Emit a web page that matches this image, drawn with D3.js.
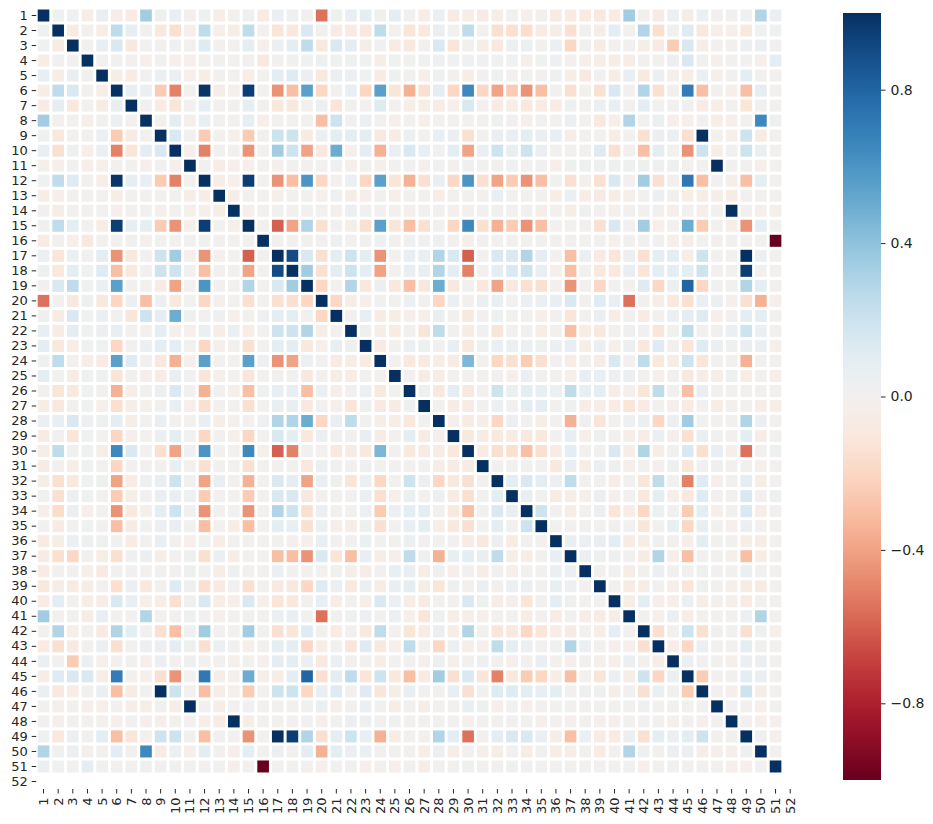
<!DOCTYPE html>
<html>
<head>
<meta charset="utf-8">
<script src="https://cdn.jsdelivr.net/npm/d3@7/dist/d3.min.js"></script>
<style>
  html, body { margin: 0; padding: 0; background: #fff; }
  svg { display: block; }
  text { font-family: "DejaVu Sans", sans-serif; fill: #262626; }
</style>
</head>
<body>
<svg id="chart" width="933" height="824"></svg>
<script>
// ---------- data ----------
// variable names (tick labels); variable 52 has no correlations (NaN)
const variables = d3.range(1, 53).map(String);
const nanVariables = ["52"];

// upper triangle of the correlation matrix: row i holds corr(i, j) for j = i+1 .. 51
const upperTriangle = [
  /* 1 */ [0.02,0.02,-0.05,0.07,-0.05,-0.07,0.35,0.03,0.07,-0.03,0.02,-0.05,0.01,0.03,-0.07,0.05,0.03,0.01,-0.55,0.03,0.07,0.1,0.03,0.1,0.01,-0.05,0.05,-0.07,-0.05,-0.07,-0.05,0.01,-0.03,0.01,-0.07,-0.07,-0.07,-0.1,-0.07,0.35,0.01,-0.07,0.05,-0.05,0.05,0.01,0.01,0.02,0.3,0.05],
  /* 2 */ [-0.07,0.01,-0.05,0.25,0.08,0.01,-0.1,-0.15,-0.03,0.25,-0.03,-0.05,0.25,0.01,-0.12,-0.1,0.15,0.01,-0.07,-0.07,-0.1,0.25,0.01,-0.12,-0.1,0.07,0.01,0.25,0.01,-0.15,-0.15,-0.17,-0.07,-0.05,-0.15,0.01,-0.05,0.1,0.01,0.3,-0.15,0.01,0.12,-0.1,-0.03,-0.03,-0.1,0.02,0.02],
  /* 3 */ [0.01,0.07,0.15,-0.1,0.01,0.01,0.03,0.01,0.12,0.01,0.01,0.1,-0.03,0.05,0.1,0.25,-0.1,0.15,0.1,-0.05,0.01,-0.07,-0.1,0.01,0.15,-0.12,0.01,-0.05,-0.1,0.05,0.05,0.01,0.05,-0.2,0.01,-0.07,0.01,0.01,-0.05,-0.08,-0.25,0.15,-0.05,0.01,0.01,0.05,0.05,0.01],
  /* 4 */ [0.01,0.01,0.01,-0.03,0.01,-0.03,-0.03,0.01,0.01,0.01,0.01,-0.1,0.01,0.02,0.02,0.03,0.02,0.02,0.02,-0.05,0.02,0.02,0.02,0.04,0.02,0.02,0.02,0.02,0.02,-0.03,0.02,0.04,0.01,-0.03,-0.05,-0.05,-0.05,0.01,0.01,0.05,0.15,0.01,-0.03,0.01,0.01,-0.03,0.1],
  /* 5 */ [-0.05,-0.07,0.01,0.05,0.05,-0.03,-0.05,0.01,0.01,-0.05,0.01,0.1,0.12,0.05,-0.1,0.05,0.05,0.02,-0.07,0.03,0.01,-0.03,0.03,0.01,-0.05,0.01,0.03,0.01,0.01,0.01,0.03,-0.05,-0.08,0.01,-0.05,0.07,-0.08,0.05,-0.03,-0.05,0.05,-0.03,0.01,0.1,0.01,0.01],
  /* 6 */ [0.07,0.05,-0.25,-0.5,0.01,0.98,-0.05,-0.03,0.95,0.01,-0.45,-0.3,0.55,-0.2,0.01,0.07,-0.2,0.55,-0.12,-0.35,-0.15,0.1,-0.2,0.65,-0.2,-0.4,-0.25,-0.45,-0.3,0.01,-0.15,0.01,-0.15,0.15,0.01,0.3,-0.15,0.01,0.7,-0.3,0.01,-0.03,-0.3,0.1,0.01],
  /* 7 */ [0.01,-0.07,-0.12,0.01,0.08,0.01,0.01,0.08,0.01,-0.1,-0.1,0.01,0.05,-0.12,0.01,0.01,0.12,0.01,-0.05,-0.05,-0.05,-0.03,0.15,0.01,-0.07,-0.05,-0.1,-0.07,-0.07,0.03,0.01,0.05,0.07,0.01,0.1,0.01,0.01,0.01,-0.07,-0.05,0.01,-0.12,0.01,0.01],
  /* 8 */ [0.01,0.1,-0.03,0.07,0.01,0.01,0.08,-0.03,0.01,0.01,0.01,-0.3,0.2,0.01,0.05,0.01,-0.03,0.01,-0.03,0.01,0.01,0.01,0.01,0.03,0.01,-0.03,0.01,0.01,0.05,0.01,-0.1,-0.03,0.3,0.01,0.05,-0.03,-0.03,0.01,-0.05,-0.03,0.01,0.65,0.03],
  /* 9 */ [0.15,0.01,-0.25,0.01,-0.03,-0.25,0.01,0.2,0.2,-0.07,0.05,0.1,0.1,0.1,-0.1,-0.07,0.05,0.01,0.07,0.05,-0.15,0.01,0.07,0.07,0.1,0.05,0.07,-0.05,0.01,0.01,-0.05,0.01,-0.15,0.05,0.05,-0.15,1.0,0.01,-0.03,0.2,-0.07,0.01],
  /* 10 */ [-0.03,-0.5,0.01,0.01,-0.45,0.01,0.35,0.2,-0.4,-0.1,0.5,-0.03,0.1,-0.35,0.07,0.15,0.07,0.01,0.1,-0.4,0.07,0.2,0.07,0.2,0.07,0.01,0.01,0.01,0.12,-0.15,0.01,-0.3,0.1,0.01,-0.45,0.2,-0.05,0.01,0.2,0.05,0.01],
  /* 11 */ [0.01,-0.05,-0.03,-0.03,0.01,-0.03,0.01,0.01,0.01,0.04,-0.03,0.01,-0.03,0.01,0.01,-0.03,0.01,0.01,0.04,0.01,0.01,0.04,0.01,0.01,-0.03,0.03,0.03,0.03,0.03,0.03,0.03,0.03,0.03,0.01,0.01,1.0,0.01,0.01,-0.03,0.01],
  /* 12 */ [-0.05,-0.03,0.95,0.01,-0.45,-0.3,0.6,-0.2,0.01,0.05,-0.2,0.55,-0.12,-0.35,-0.15,0.07,-0.2,0.6,-0.15,-0.4,-0.25,-0.45,-0.3,0.01,-0.15,0.01,-0.15,0.15,0.01,0.35,-0.15,0.01,0.72,-0.3,0.01,-0.05,-0.3,0.1,0.01],
  /* 13 */ [-0.05,0.01,0.01,-0.03,0.01,0.01,-0.03,0.03,-0.05,-0.03,0.01,-0.03,0.01,0.01,-0.05,0.01,0.01,0.01,0.07,0.01,0.01,0.01,-0.05,0.05,-0.05,-0.08,-0.05,-0.03,0.01,0.05,0.01,-0.05,-0.05,-0.05,-0.07,0.01,0.01,0.01],
  /* 14 */ [-0.03,0.01,0.01,0.01,0.01,0.01,-0.03,0.05,0.01,0.01,0.01,-0.03,0.01,0.01,-0.03,0.01,0.01,0.01,0.01,0.01,-0.05,0.01,-0.05,0.03,0.01,-0.03,0.01,0.01,0.01,-0.03,0.01,-0.03,0.01,1.0,0.01,-0.03,-0.03],
  /* 15 */ [0.01,-0.6,-0.4,0.3,-0.15,0.01,-0.05,-0.15,0.55,-0.12,-0.3,-0.15,0.01,-0.2,0.65,-0.15,-0.35,-0.25,-0.45,-0.3,0.01,0.01,0.01,-0.15,0.15,0.01,0.35,-0.03,0.01,0.5,-0.25,0.01,-0.05,-0.45,0.1,0.01],
  /* 16 */ [0.01,0.01,0.01,0.01,0.04,0.01,0.01,0.04,0.01,0.04,0.01,0.04,0.01,-0.03,0.01,0.01,0.01,0.01,0.01,0.01,0.01,0.01,0.01,-0.03,0.01,0.01,0.01,-0.03,-0.05,0.01,0.01,0.01,0.01,0.01,-1.0],
  /* 17 */ [0.9,0.15,-0.15,0.1,0.2,0.1,-0.45,0.01,0.07,0.07,0.3,0.15,-0.6,0.01,0.15,0.15,0.3,0.1,0.01,-0.3,0.05,-0.08,-0.12,0.05,-0.15,0.1,0.1,-0.05,0.2,0.01,0.01,1.0,0.05,0.01],
  /* 18 */ [0.35,-0.15,0.1,0.2,0.1,-0.4,0.01,0.07,0.07,0.3,0.1,-0.5,0.01,0.1,0.15,0.2,0.07,-0.03,-0.3,0.01,-0.1,-0.1,0.07,-0.12,0.1,0.1,0.1,0.2,0.01,0.01,0.95,0.01,0.01],
  /* 19 */ [-0.2,0.01,0.3,-0.1,0.05,-0.1,-0.3,-0.1,0.5,-0.1,0.01,-0.1,-0.4,-0.1,-0.15,-0.15,-0.03,-0.45,0.01,-0.2,0.01,0.01,0.12,-0.2,0.05,0.8,-0.2,0.01,0.01,0.3,0.1,0.01],
  /* 20 */ [-0.2,-0.05,-0.03,0.01,0.01,0.05,0.01,-0.2,0.05,0.01,0.05,0.07,0.01,0.05,0.05,0.07,0.15,0.01,0.12,0.07,-0.55,0.01,-0.05,-0.1,-0.15,0.07,0.05,-0.03,-0.15,-0.35,-0.03],
  /* 21 */ [0.01,0.07,-0.07,-0.05,-0.03,-0.03,0.07,0.01,-0.1,0.01,0.03,0.01,0.01,-0.03,0.01,-0.12,0.01,0.05,-0.05,0.01,-0.07,0.01,0.05,0.1,0.12,-0.03,0.01,0.1,0.1,0.01],
  /* 22 */ [0.03,-0.05,-0.07,0.01,-0.12,0.25,0.01,-0.07,0.01,-0.12,0.01,0.01,-0.05,0.01,-0.3,-0.05,-0.1,0.01,0.03,0.01,-0.12,0.01,0.25,0.01,0.01,0.05,0.2,0.05,0.01],
  /* 23 */ [-0.07,0.01,0.05,0.03,0.01,0.07,-0.1,0.03,0.05,0.05,0.05,0.03,0.05,0.07,-0.05,0.05,-0.03,0.05,-0.1,0.12,0.01,-0.12,0.12,0.05,0.03,0.07,0.05,-0.03],
  /* 24 */ [0.01,-0.1,-0.08,-0.05,-0.07,0.45,0.01,-0.2,-0.15,-0.25,-0.15,0.01,-0.05,0.01,-0.05,0.15,0.01,0.25,-0.1,-0.05,0.2,-0.12,0.01,0.01,-0.35,0.01,0.01],
  /* 25 */ [0.01,-0.07,-0.05,0.01,0.01,0.01,0.01,-0.03,0.05,0.01,0.01,-0.03,0.07,0.07,0.05,0.05,0.01,-0.03,0.01,-0.1,-0.05,-0.05,0.03,-0.05,0.01,-0.03],
  /* 26 */ [0.03,-0.1,0.1,-0.1,0.01,0.2,0.05,0.1,0.07,0.05,0.25,0.07,0.1,-0.05,-0.03,-0.12,0.25,0.01,-0.3,0.07,0.01,0.01,0.01,0.01,0.01],
  /* 27 */ [0.01,-0.07,-0.07,0.01,0.05,0.01,0.1,0.1,0.01,0.03,-0.05,-0.05,-0.07,-0.12,-0.07,0.01,-0.03,-0.07,0.01,-0.05,0.01,0.01,-0.05,-0.05],
  /* 28 */ [-0.03,-0.07,-0.05,-0.2,0.05,0.01,-0.05,0.01,-0.35,0.03,-0.12,0.01,0.03,0.05,-0.2,0.05,0.35,0.01,0.01,0.01,0.3,0.05,0.01],
  /* 29 */ [-0.1,-0.07,-0.1,-0.07,-0.1,-0.1,0.01,0.07,-0.03,0.03,0.01,-0.05,-0.05,0.05,-0.03,-0.15,0.07,0.01,0.01,0.1,-0.05,0.01],
  /* 30 */ [-0.07,-0.15,-0.15,-0.3,-0.15,-0.07,0.1,0.01,0.01,0.15,-0.05,0.3,-0.05,0.01,0.15,-0.15,0.07,-0.03,-0.55,0.01,0.03],
  /* 31 */ [0.01,0.01,0.01,0.01,-0.1,0.07,-0.05,0.05,0.03,-0.03,0.01,-0.03,0.03,-0.12,0.01,0.03,0.01,0.01,-0.03,0.01],
  /* 32 */ [0.1,0.15,0.1,0.05,0.25,0.01,0.01,-0.05,0.01,-0.12,0.25,0.01,-0.5,0.12,-0.03,0.01,0.1,-0.05,0.01],
  /* 33 */ [0.07,0.01,-0.07,-0.05,-0.03,0.05,-0.03,0.01,-0.1,0.1,-0.03,-0.1,0.12,0.01,0.01,0.15,0.01,0.03],
  /* 34 */ [0.2,0.01,-0.05,0.01,0.05,-0.12,-0.05,-0.2,0.05,0.01,-0.25,0.1,-0.03,0.01,0.15,-0.05,0.01],
  /* 35 */ [0.01,0.01,0.01,0.01,0.01,0.01,-0.12,0.01,0.07,-0.2,0.07,0.01,-0.03,0.05,0.01,0.01],
  /* 36 */ [0.07,0.05,0.07,0.1,-0.07,-0.05,0.03,0.01,-0.05,0.1,0.01,0.01,-0.05,-0.05,0.01],
  /* 37 */ [0.05,0.03,0.03,0.01,-0.07,0.3,-0.03,-0.3,0.01,0.01,-0.03,-0.3,-0.05,0.01],
  /* 38 */ [0.01,0.01,-0.05,0.01,0.05,0.01,0.01,0.03,0.01,0.01,0.05,0.01,0.01],
  /* 39 */ [0.01,-0.07,-0.05,0.01,-0.03,-0.12,0.03,0.01,-0.03,-0.07,-0.07,0.01],
  /* 40 */ [-0.05,0.1,-0.03,-0.03,0.05,-0.05,0.01,-0.03,-0.07,0.01,0.01],
  /* 41 */ [0.01,-0.03,0.05,-0.05,0.01,0.01,0.01,0.05,0.3,0.01],
  /* 42 */ [-0.15,0.01,0.2,-0.15,0.03,0.01,-0.15,0.03,-0.03],
  /* 43 */ [-0.05,-0.2,0.05,0.01,0.01,0.1,0.01,0.01],
  /* 44 */ [0.05,0.01,0.01,-0.03,0.05,0.05,0.01],
  /* 45 */ [-0.25,0.01,0.01,0.1,0.05,0.01],
  /* 46 */ [0.01,-0.03,0.2,-0.05,0.01],
  /* 47 */ [0.01,0.01,-0.03,0.01],
  /* 48 */ [0.01,-0.03,-0.03],
  /* 49 */ [0.03,-0.03],
  /* 50 */ [0.01]
];

const colorbarTicks = [0.8, 0.4, 0.0, -0.4, -0.8];

// ---------- build full symmetric matrix ----------
const n = variables.length;
const valid = variables.filter(v => !nanVariables.includes(v));
const m = valid.length;
const corr = {};
valid.forEach((a, i) => {
  corr[a] = {};
  corr[a][a] = 1;
});
upperTriangle.forEach((row, i) => {
  row.forEach((v, k) => {
    const j = i + 1 + k;
    corr[valid[i]][valid[j]] = v;
    corr[valid[j]][valid[i]] = v;
  });
});
const cells = [];
valid.forEach(r => valid.forEach(c => cells.push({ row: r, col: c, value: corr[r][c] })));

// ---------- layout ----------
const svg = d3.select("#chart");
const plot = { left: 36.2, right: 797.5, top: 8, bottom: 789 };
const x = d3.scaleBand().domain(variables).range([plot.left, plot.right]);
const y = d3.scaleBand().domain(variables).range([plot.top, plot.bottom]);
const color = v => d3.interpolateRdBu((1 - v) / 2 === undefined ? 0 : (v + 1) / 2);

const gap = 1.5;
svg.append("g")
  .selectAll("rect")
  .data(cells)
  .join("rect")
  .attr("x", d => x(d.col) + gap)
  .attr("y", d => y(d.row) + gap)
  .attr("width", x.bandwidth() - 2 * gap)
  .attr("height", y.bandwidth() - 2 * gap)
  .attr("fill", d => color(d.value));

// y axis
const yAxis = svg.append("g")
  .attr("transform", `translate(${plot.left},0)`)
  .call(d3.axisLeft(y).tickSize(4.5).tickPadding(4));
yAxis.select(".domain").remove();
yAxis.selectAll("line").attr("stroke", "#262626").attr("stroke-width", 1);
yAxis.selectAll("text").style("font-size", "13px").attr("fill", "#262626");

// x axis
const xAxis = svg.append("g")
  .attr("transform", `translate(0,${plot.bottom})`)
  .call(d3.axisBottom(x).tickSize(4.5).tickPadding(4));
xAxis.select(".domain").remove();
xAxis.selectAll("line").attr("stroke", "#262626").attr("stroke-width", 1);
xAxis.selectAll("text")
  .style("font-size", "13px")
  .attr("fill", "#262626")
  .attr("transform", "rotate(-90)")
  .attr("x", -8.5)
  .attr("y", 0)
  .attr("dy", "0.35em")
  .attr("text-anchor", "end");

// ---------- colorbar ----------
const cb = { x: 843, width: 38, top: 13, bottom: 780 };
const cbScale = d3.scaleLinear().domain([-1, 1]).range([cb.bottom, cb.top]);
const defs = svg.append("defs");
const grad = defs.append("linearGradient")
  .attr("id", "cbgrad")
  .attr("x1", 0).attr("y1", 1).attr("x2", 0).attr("y2", 0);
d3.range(0, 1.0001, 0.02).forEach(t => {
  grad.append("stop").attr("offset", t).attr("stop-color", d3.interpolateRdBu(t));
});
// RdBu reversed: bottom (-1) red, top (+1) blue
grad.selectAll("stop").attr("stop-color", function () {
  const t = +d3.select(this).attr("offset");
  return d3.interpolateRdBu(t);
});
svg.append("rect")
  .attr("x", cb.x)
  .attr("y", cb.top)
  .attr("width", cb.width)
  .attr("height", cb.bottom - cb.top)
  .attr("fill", "url(#cbgrad)");

const cbAxis = svg.append("g")
  .attr("transform", `translate(${cb.x + cb.width},0)`)
  .call(d3.axisRight(cbScale)
    .tickValues(colorbarTicks)
    .tickSize(4.5)
    .tickPadding(5)
    .tickFormat(d => d3.format(".1f")(d).replace("-", "\u2212")));
cbAxis.select(".domain").remove();
cbAxis.selectAll("line").attr("stroke", "#262626");
cbAxis.selectAll("text").style("font-size", "14px").attr("fill", "#262626");
</script>
</body>
</html>
